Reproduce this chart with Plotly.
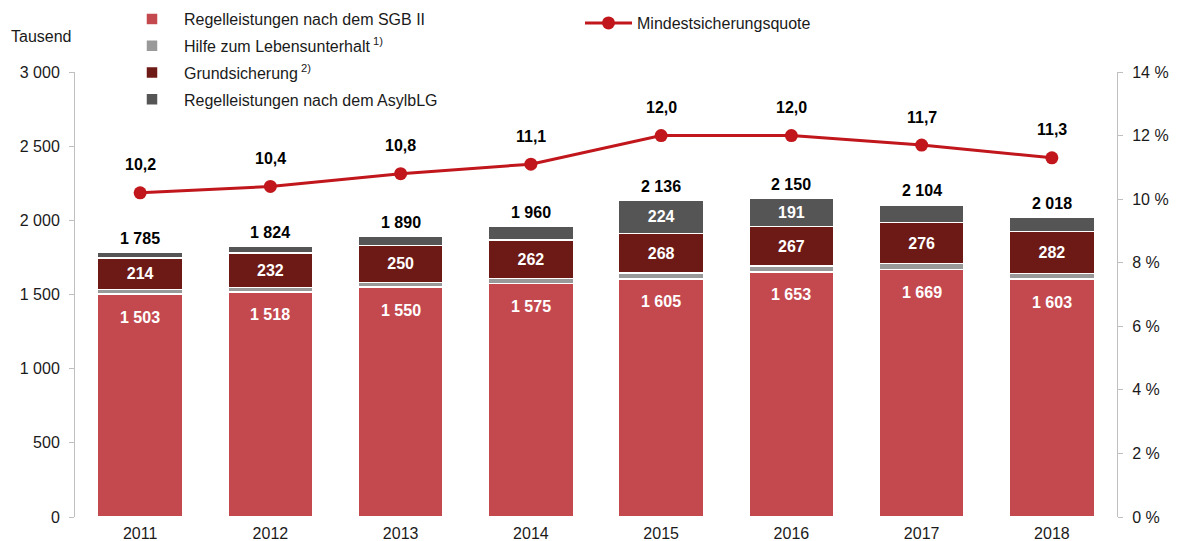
import plotly.graph_objects as go

# Jahre und Werte (in Tausend)
years = ["2011", "2012", "2013", "2014", "2015", "2016", "2017", "2018"]
sgb2 = [1503, 1518, 1550, 1575, 1605, 1653, 1669, 1603]
hlu = [30, 30, 31, 32, 39, 39, 40, 40]
grundsicherung = [214, 232, 250, 262, 268, 267, 276, 282]
asylblg = [38, 44, 59, 91, 224, 191, 119, 93]
quote = [10.2, 10.4, 10.8, 11.1, 12.0, 12.0, 11.7, 11.3]
pct_ticks = [0, 2, 4, 6, 8, 10, 12, 14]

totals = [a + b + c + d for a, b, c, d in zip(sgb2, hlu, grundsicherung, asylblg)]

FONT = "Liberation Sans, Arial, sans-serif"
C_SGB = "#c4494f"
C_HLU = "#999999"
C_GS = "#6d1a16"
C_ASYL = "#555555"
C_LINE = "#c0161c"
AXIS_GRAY = "#bfbfbf"
TXT = "#1a1a1a"

W, H = 1179, 541
L, R, T, B = 74.5, 61.5, 72, 23.5
PW, PH = W - L - R, H - T - B


def px_x(x):
    return (x - L) / PW


def px_y(y):
    return (H - B - y) / PH


def fmt(v):
    return f"{v:,}".replace(",", " ")


fig = go.Figure()

bar_line = dict(color="white", width=1.5)
fig.add_bar(x=years, y=sgb2, name="Regelleistungen nach dem SGB II",
            marker=dict(color=C_SGB, line=bar_line), legendgroup="a")
fig.add_bar(x=years, y=hlu, name="Hilfe zum Lebensunterhalt<sup> 1)</sup>",
            marker=dict(color=C_HLU, line=bar_line), legendgroup="b")
fig.add_bar(x=years, y=grundsicherung, name="Grundsicherung<sup> 2)</sup>",
            marker=dict(color=C_GS, line=bar_line), legendgroup="c",
            text=[f"<b>{v}</b>" for v in grundsicherung], textposition="inside",
            insidetextanchor="middle",
            textfont=dict(family=FONT, size=16, color="white"))
fig.add_bar(x=years, y=asylblg, name="Regelleistungen nach dem AsylbLG",
            marker=dict(color=C_ASYL, line=bar_line), legendgroup="d",
            text=[f"<b>{v}</b>" if v > 150 else "" for v in asylblg],
            textposition="inside", insidetextanchor="middle",
            textfont=dict(family=FONT, size=16, color="white"))

fig.add_scatter(x=years, y=quote, yaxis="y2", name="Mindestsicherungsquote",
                mode="lines+markers", legend="legend2",
                line=dict(color=C_LINE, width=3),
                marker=dict(color=C_LINE, size=13))

annotations = []
# category positions on the x axis are the indices of the years
for i, v in enumerate(sgb2):
    annotations.append(dict(x=i, y=v, xref="x", yref="y", text=f"<b>{fmt(v)}</b>",
                            showarrow=False, yshift=-23,
                            font=dict(family=FONT, size=16, color="white")))
for i, v in enumerate(totals):
    annotations.append(dict(x=i, y=v, xref="x", yref="y", text=f"<b>{fmt(v)}</b>",
                            showarrow=False, yshift=14,
                            font=dict(family=FONT, size=16, color="black")))
for i, v in enumerate(quote):
    annotations.append(dict(x=i, y=v, xref="x", yref="y2",
                            text=f"<b>{v:.1f}</b>".replace(".", ","),
                            showarrow=False, yshift=28,
                            font=dict(family=FONT, size=16, color="black")))
annotations.append(dict(x=px_x(8), y=px_y(36), xref="paper", yref="paper",
                        xanchor="left", yanchor="middle", text="Tausend",
                        showarrow=False, font=dict(family=FONT, size=16, color=TXT)))

fig.update_layout(
    width=W, height=H,
    margin=dict(l=L, r=R, t=T, b=B, pad=0, autoexpand=False),
    paper_bgcolor="white", plot_bgcolor="white",
    barmode="stack", bargap=0.348,
    separators=", ",
    font=dict(family=FONT, size=16, color=TXT),
    showlegend=True,
    legend=dict(xref="container", yref="container",
                x=120 / W, y=1 - 2 / H, xanchor="left", yanchor="top",
                traceorder="grouped", tracegroupgap=3, itemwidth=54,
                font=dict(family=FONT, size=16, color=TXT),
                bgcolor="rgba(0,0,0,0)"),
    legend2=dict(xref="container", yref="container",
                 x=580 / W, y=1 - 6 / H, xanchor="left", yanchor="top",
                 itemwidth=47,
                 font=dict(family=FONT, size=16, color=TXT),
                 bgcolor="rgba(0,0,0,0)"),
    xaxis=dict(type="category", categoryorder="array", categoryarray=years,
               range=[-0.5, len(years) - 0.5], autorange=False,
               showline=False, ticks="", showgrid=False, automargin=False,
               ticklabelstandoff=5,
               tickfont=dict(family=FONT, size=16, color=TXT)),
    yaxis=dict(range=[0, 3000], tickvals=[0, 500, 1000, 1500, 2000, 2500, 3000],
               tickformat=",d", showgrid=False, zeroline=False, automargin=False,
               showline=True, linecolor=AXIS_GRAY, linewidth=1,
               ticks="outside", ticklen=5, tickcolor=AXIS_GRAY,
               ticklabelstandoff=6,
               tickfont=dict(family=FONT, size=16, color=TXT)),
    yaxis2=dict(range=[0, 14], tickvals=pct_ticks,
                ticktext=[f"{v} %" for v in pct_ticks],
                overlaying="y", side="right", automargin=False,
                showgrid=False, zeroline=False,
                showline=True, linecolor=AXIS_GRAY, linewidth=1,
                ticks="outside", ticklen=5, tickcolor=AXIS_GRAY,
                ticklabelstandoff=6,
                tickfont=dict(family=FONT, size=16, color=TXT)),
    annotations=annotations,
)

fig.write_html("out.html")
